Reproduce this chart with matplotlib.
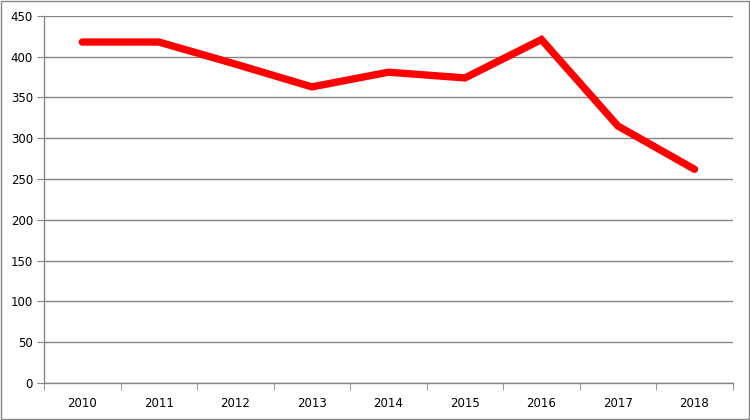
import numpy as np
import matplotlib.pyplot as plt
from matplotlib.patches import Rectangle

years = ['2010', '2011', '2012', '2013', '2014', '2015', '2016', '2017', '2018']
values = [418, 418, 391, 363, 381, 374, 421, 315, 262]

fig = plt.figure(figsize=(7.5, 4.2), dpi=100)
ax = fig.add_axes([0.0587, 0.0881, 0.9183, 0.874])

x = np.arange(len(years))
ax.plot(x, values, color='#ff0000', linewidth=5.3, solid_capstyle='round',
        solid_joinstyle='miter', zorder=3)

ax.set_xlim(-0.5, len(years) - 0.5)
ax.set_ylim(0, 450)
ax.set_yticks(np.arange(0, 451, 50))
ax.set_xticks(x)
ax.set_xticklabels(years)
ax.set_xticks(np.arange(-0.5, len(years), 1), minor=True)
ax.tick_params(axis='x', which='major', length=0, pad=10)
ax.tick_params(axis='x', which='minor', length=5, color='#868686', direction='out')
ax.tick_params(axis='y', length=5, color='#868686', pad=3)
for lab in ax.get_xticklabels() + ax.get_yticklabels():
    lab.set_fontfamily('DejaVu Sans')
    lab.set_fontsize(8.5)
    lab.set_color('#000000')

ax.grid(axis='y', color='#868686', linewidth=1)
ax.set_axisbelow(True)
for s in ['top', 'right']:
    ax.spines[s].set_visible(False)
for s in ['left', 'bottom']:
    ax.spines[s].set_color('#868686')
    ax.spines[s].set_linewidth(1)

fig.patches.append(Rectangle((0.001, 0.002), 0.997, 0.995, transform=fig.transFigure,
                             fill=False, edgecolor='#868686', linewidth=1))

fig.savefig('out.png', dpi=100)
